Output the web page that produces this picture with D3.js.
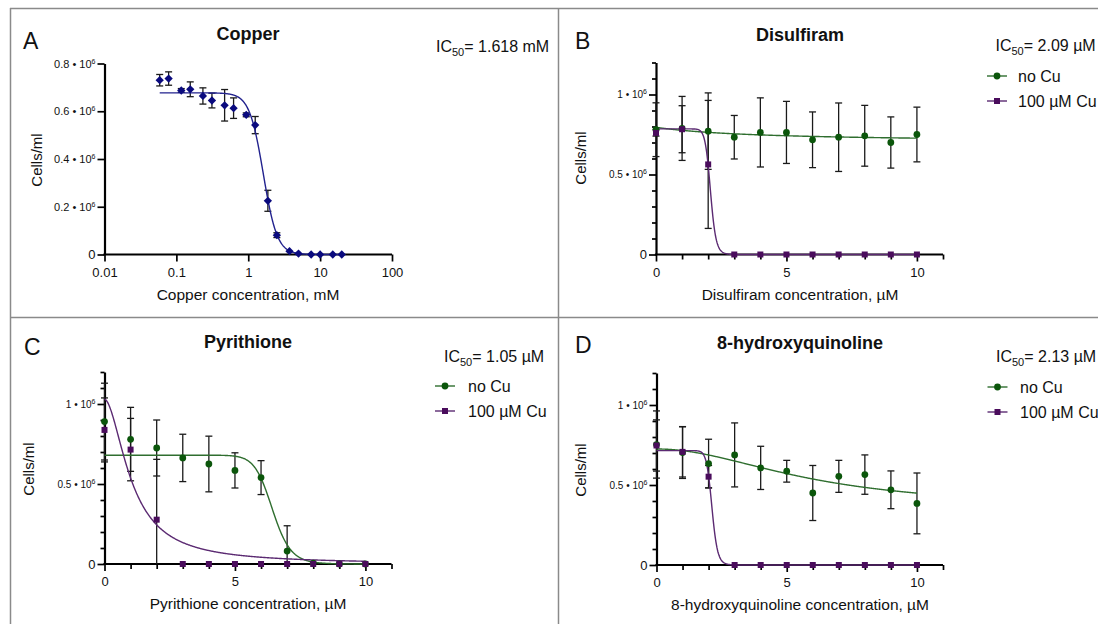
<!DOCTYPE html>
<html>
<head>
<meta charset="utf-8">
<script src="https://cdn.jsdelivr.net/npm/d3@7"></script>
<style>
  body { margin: 0; background: #fff; }
  svg { display: block; font-family: "Liberation Sans", Arial, Helvetica, sans-serif; }
</style>
</head>
<body>
<svg id="chart" width="1098" height="624"></svg>
<script>
// ---- data (cell counts in units of 10^6 cells/ml) ----
const copperConc = [0.0586, 0.078, 0.117, 0.156, 0.234, 0.3125, 0.469, 0.625, 0.9375, 1.25, 1.875, 2.5, 3.75, 5, 7.5, 10, 15, 20];
const copperMean = [0.730, 0.737, 0.687, 0.692, 0.664, 0.645, 0.625, 0.613, 0.585, 0.542, 0.225, 0.081, 0.014, 0.004, 0, 0, 0, 0];
const copperSD   = [0.024, 0.028, 0.008, 0.031, 0.034, 0.031, 0.066, 0.043, 0.008, 0.036, 0.044, 0.010, 0, 0, 0, 0, 0, 0];

const dose = [0, 1, 2, 3, 4, 5, 6, 7, 8, 9, 10];

const disNoCuMean = [0.780, 0.788, 0.771, 0.733, 0.763, 0.763, 0.717, 0.733, 0.742, 0.700, 0.750];
const disNoCuSD   = [0.168, 0.200, 0.239, 0.136, 0.216, 0.194, 0.174, 0.214, 0.190, 0.160, 0.171];
const disCuMean   = [0.760, 0.783, 0.563, 0, 0, 0, 0, 0, 0, 0, 0];
const disCuSD     = [0.020, 0.147, 0.400, 0, 0, 0, 0, 0, 0, 0, 0];

const pyrNoCuMean = [0.890, 0.779, 0.725, 0.663, 0.625, 0.585, 0.540, 0.081, 0.006, 0, 0];
const pyrNoCuSD   = [0.240, 0.200, 0.175, 0.148, 0.174, 0.110, 0.106, 0.158, 0, 0, 0];
const pyrCuMean   = [0.838, 0.715, 0.277, 0, 0, 0, 0, 0, 0, 0, 0];
const pyrCuSD     = [0.200, 0.195, 0.377, 0, 0, 0, 0, 0, 0, 0, 0];

const hqNoCuMean = [0.753, 0.703, 0.634, 0.688, 0.607, 0.586, 0.450, 0.554, 0.565, 0.470, 0.385];
const hqNoCuSD   = [0.210, 0.162, 0.152, 0.200, 0.135, 0.068, 0.172, 0.100, 0.123, 0.118, 0.190];
const hqCuMean   = [0.747, 0.707, 0.552, 0, 0, 0, 0, 0, 0, 0, 0];
const hqCuSD     = [0.160, 0.157, 0.070, 0, 0, 0, 0, 0, 0, 0, 0];

// fitted dose-response curves: [top, bottom, IC50, hill slope]
const copperFit = [0.677, 0, 1.618, 4.5];
const disNoCuFit = [0.795, 0.70, 4, 1];
const disCuFit = [0.785, 0, 2.09, 20];
const pyrNoCuFit = [0.68, 0, 6.44, 18.5];
const pyrCuFit = [1.03, 0, 1.05, 1.81];
const hqNoCuFit = [0.725, 0.35, 6, 2];
const hqCuFit = [0.715, 0, 2.13, 20];

// ticks and texts
const copperXTicks = [0.01, 0.1, 1, 10, 100];
const copperYTicks = [0, 0.2, 0.4, 0.6, 0.8];
const doseXTicks = [0, 5, 10];
const doseXMinor = [1, 2, 3, 4, 6, 7, 8, 9, 11];
const cellYTicks = [0, 0.5, 1];
const cellYMinor = [0.1, 0.2, 0.3, 0.4, 0.6, 0.7, 0.8, 0.9, 1.1, 1.2];
const panelLetters = ["A", "B", "C", "D"];
const panelTitles = ["Copper", "Disulfiram", "Pyrithione", "8-hydroxyquinoline"];
const xTitles = ["Copper concentration, mM", "Disulfiram concentration, \u00b5M",
                 "Pyrithione concentration, \u00b5M", "8-hydroxyquinoline concentration, \u00b5M"];
const ic50Texts = ["= 1.618 mM", "= 2.09 \u00b5M", "= 1.05 \u00b5M", "= 2.13 \u00b5M"];
const seriesNames = ["no Cu", "100 \u00b5M Cu"];

const navy = "#0a0a7e", navyLine = "#22228e";
const green = "#0b560b", greenLine = "#2f6e2f";
const purple = "#4a0c5c", purpleLine = "#5b2a72";

const svg = d3.select("#chart");

// panel frame
const frame = svg.append("g").attr("stroke", "#8a8a8a").attr("stroke-width", 1.5);
frame.append("line").attr("x1", 10).attr("x2", 1098).attr("y1", 8.5).attr("y2", 8.5);
frame.append("line").attr("x1", 10.5).attr("x2", 10.5).attr("y1", 8).attr("y2", 624);
frame.append("line").attr("x1", 558.5).attr("x2", 558.5).attr("y1", 8).attr("y2", 624);
frame.append("line").attr("x1", 10).attr("x2", 1098).attr("y1", 317.5).attr("y2", 317.5);

function hill(p, x) {
  return p[1] + (p[0] - p[1]) / (1 + Math.pow(x / p[2], p[3]));
}

function sciLabel(sel, small) {
  sel.each(function (d) {
    const t = d3.select(this);
    t.text(null);
    if (d === 0) {
      t.attr("font-size", 13).text("0");
    } else {
      t.attr("font-size", small ? 10 : 11);
      t.append("tspan").text(d + " \u2022 10");
      t.append("tspan").attr("dy", -4).attr("font-size", 7).text("6");
    }
  });
}

const panels = [
  { log: true, xd: [0.01, 100], xr: [104.5, 392], yd: [0, 0.8], yr: [254.5, 63.5],
    xTicks: copperXTicks, xMinor: [], yTicks: copperYTicks, yMinor: [],
    series: [{ x: copperConc, m: copperMean, sd: copperSD, fit: copperFit, sym: d3.symbolDiamond2, size: 44, c: navy, lc: navyLine }],
    letter: [23, 49], title: [248, 40], xlab: [248, 300], ylab: [37, 160], ic: [436, 51.5], legend: null },
  { log: false, xd: [0, 11], xr: [656, 943], yd: [0, 1.2], yr: [254.5, 62.5],
    xTicks: doseXTicks, xMinor: doseXMinor, yTicks: cellYTicks, yMinor: cellYMinor,
    series: [
      { x: dose, m: disNoCuMean, sd: disNoCuSD, fit: disNoCuFit, sym: d3.symbolCircle, size: 36, c: green, lc: greenLine },
      { x: dose, m: disCuMean, sd: disCuSD, fit: disCuFit, sym: d3.symbolSquare, size: 36, c: purple, lc: purpleLine }],
    letter: [575, 49], title: [800, 40.5], xlab: [800, 300], ylab: [581, 158], ic: [995.5, 51], legend: [987, 1018, 76, 101] },
  { log: false, xd: [0, 11], xr: [104.5, 391.5], yd: [0, 1.2], yr: [564, 372],
    xTicks: doseXTicks, xMinor: doseXMinor, yTicks: cellYTicks, yMinor: cellYMinor,
    series: [
      { x: dose, m: pyrNoCuMean, sd: pyrNoCuSD, fit: pyrNoCuFit, sym: d3.symbolCircle, size: 36, c: green, lc: greenLine },
      { x: dose, m: pyrCuMean, sd: pyrCuSD, fit: pyrCuFit, sym: d3.symbolSquare, size: 36, c: purple, lc: purpleLine }],
    letter: [24, 355], title: [248, 347.5], xlab: [248, 609], ylab: [29, 469], ic: [444, 361.5], legend: [435, 468, 386, 411] },
  { log: false, xd: [0, 11], xr: [656.5, 943], yd: [0, 1.2], yr: [565, 373],
    xTicks: doseXTicks, xMinor: doseXMinor, yTicks: cellYTicks, yMinor: cellYMinor,
    series: [
      { x: dose, m: hqNoCuMean, sd: hqNoCuSD, fit: hqNoCuFit, sym: d3.symbolCircle, size: 36, c: green, lc: greenLine },
      { x: dose, m: hqCuMean, sd: hqCuSD, fit: hqCuFit, sym: d3.symbolSquare, size: 36, c: purple, lc: purpleLine }],
    letter: [575, 353], title: [800, 348.5], xlab: [800, 610], ylab: [581, 470], ic: [996, 361.5], legend: [987.5, 1020, 387, 412] }
];

panels.forEach(function (p, i) {
  const g = svg.append("g");
  const x = (p.log ? d3.scaleLog() : d3.scaleLinear()).domain(p.xd).range(p.xr);
  const y = d3.scaleLinear().domain(p.yd).range(p.yr);
  const small = !p.log;

  // axes: minor ticks first, then major
  if (p.yMinor.length) {
    const ym = g.append("g").attr("transform", "translate(" + p.xr[0] + ",0)")
      .call(d3.axisLeft(y).tickValues(p.yMinor).tickSize(4).tickSizeOuter(0).tickFormat(""));
    ym.select(".domain").remove();
  }
  if (p.xMinor.length) {
    const xm = g.append("g").attr("transform", "translate(0," + p.yr[0] + ")")
      .call(d3.axisBottom(x).tickValues(p.xMinor).tickSize(5).tickSizeOuter(0).tickFormat(""));
    xm.select(".domain").remove();
  }
  const ya = g.append("g").attr("transform", "translate(" + p.xr[0] + ",0)")
    .call(d3.axisLeft(y).tickValues(p.yTicks).tickSize(7).tickSizeOuter(0).tickPadding(2));
  ya.selectAll(".tick text").call(sciLabel, small);
  const xa = g.append("g").attr("transform", "translate(0," + p.yr[0] + ")")
    .call(d3.axisBottom(x).tickValues(p.xTicks).tickSize(7).tickSizeOuter(0).tickPadding(6)
      .tickFormat(d => String(d)));
  xa.selectAll(".tick text").attr("font-size", 13);
  g.selectAll("g").attr("font-family", null);
  g.selectAll(".domain").attr("stroke", "#000").attr("stroke-width", 2.2);
  g.selectAll(".tick line").attr("stroke", "#000").attr("stroke-width", 1.7);
  g.selectAll(".tick text").attr("fill", "#111");
  // extend x-axis line to meet the y-axis line at the corner
  xa.select(".domain").attr("d", "M" + (p.xr[0] - 1.1) + ",0H" + p.xr[1]);

  p.series.forEach(function (s) {
    // error bars
    const eb = g.append("g").attr("stroke", "#1a1a1a").attr("stroke-width", 1.3).attr("fill", "none");
    s.x.forEach(function (xv, k) {
      const sd = s.sd[k];
      if (!sd) return;
      const cx = x(xv);
      const lo = Math.max(0, s.m[k] - sd), hi = s.m[k] + sd;
      eb.append("line").attr("x1", cx).attr("x2", cx).attr("y1", y(lo)).attr("y2", y(hi));
      eb.append("line").attr("x1", cx - 3.5).attr("x2", cx + 3.5).attr("y1", y(hi)).attr("y2", y(hi));
      if (s.m[k] - sd > 0) {
        eb.append("line").attr("x1", cx - 3.5).attr("x2", cx + 3.5).attr("y1", y(lo)).attr("y2", y(lo));
      }
    });
  });

  p.series.forEach(function (s) {
    // fitted curve
    const x0 = d3.min(s.x), x1 = d3.max(s.x), n = 500;
    const xs = d3.range(n + 1).map(k => p.log ? x0 * Math.pow(x1 / x0, k / n) : x0 + (x1 - x0) * k / n);
    g.append("path")
      .attr("d", d3.line().x(d => x(d)).y(d => y(hill(s.fit, d)))(xs))
      .attr("fill", "none").attr("stroke", s.lc).attr("stroke-width", 1.4);
  });

  p.series.forEach(function (s) {
    g.append("g").selectAll("path").data(s.x).join("path")
      .attr("transform", (d, k) => "translate(" + x(d) + "," + y(s.m[k]) + ")")
      .attr("d", d3.symbol().type(s.sym).size(s.size))
      .attr("fill", s.c);
  });

  // texts
  g.append("text").attr("x", p.letter[0]).attr("y", p.letter[1])
    .attr("font-size", 23).attr("fill", "#111").text(panelLetters[i]);
  g.append("text").attr("x", p.title[0]).attr("y", p.title[1]).attr("text-anchor", "middle")
    .attr("font-size", 18).attr("font-weight", "bold").attr("fill", "#111").text(panelTitles[i]);
  g.append("text").attr("x", p.xlab[0]).attr("y", p.xlab[1]).attr("text-anchor", "middle")
    .attr("font-size", 15.5).attr("fill", "#111").text(xTitles[i]);
  g.append("text").attr("transform", "translate(" + p.ylab[0] + "," + p.ylab[1] + ") rotate(-90)")
    .attr("text-anchor", "middle").attr("dy", "0.35em")
    .attr("font-size", 15).attr("fill", "#111").text("Cells/ml");

  const ic = g.append("text").attr("x", p.ic[0]).attr("y", p.ic[1]).attr("font-size", 16).attr("fill", "#111");
  ic.append("tspan").text("IC");
  ic.append("tspan").attr("font-size", 11).attr("dy", 4).text("50");
  ic.append("tspan").attr("dy", -4).text(ic50Texts[i]);

  if (p.legend) {
    const [lx, tx, ly1, ly2] = p.legend;
    [ly1, ly2].forEach(function (ly, k) {
      const s = p.series[k];
      g.append("line").attr("x1", lx).attr("x2", lx + 20).attr("y1", ly).attr("y2", ly)
        .attr("stroke", s.lc).attr("stroke-width", 1.4);
      g.append("path").attr("transform", "translate(" + (lx + 10) + "," + ly + ")")
        .attr("d", d3.symbol().type(s.sym).size(s.size)).attr("fill", s.c);
      g.append("text").attr("x", tx).attr("y", ly + 5.7).attr("font-size", 16).attr("fill", "#111")
        .text(seriesNames[k]);
    });
  }
});
</script>
</body>
</html>
